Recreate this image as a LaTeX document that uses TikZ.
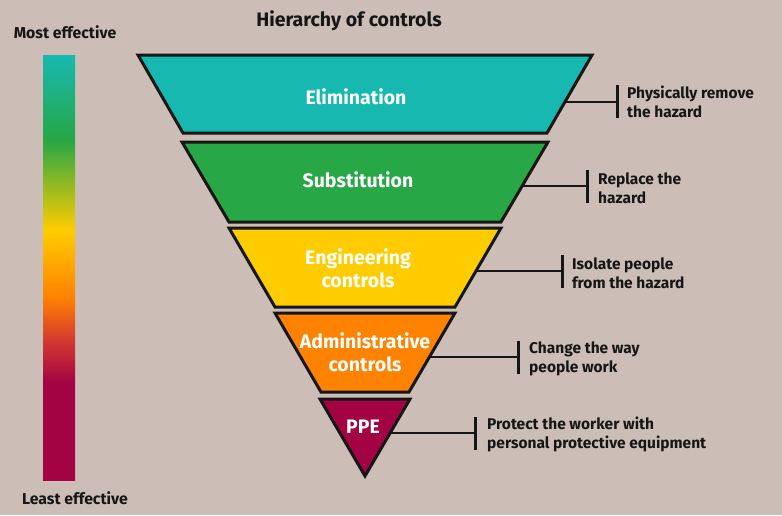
\documentclass[tikz,border=0pt]{standalone}
\usepackage{fontspec}
\setmainfont{Fira Sans}
\definecolor{bg}{HTML}{CCBEB6}
\definecolor{ink}{HTML}{161616}
\definecolor{tealc}{HTML}{17B8B0}
\definecolor{grnc}{HTML}{27A745}
\definecolor{yelc}{HTML}{FFCC00}
\definecolor{orgc}{HTML}{FF8200}
\definecolor{redc}{HTML}{D43A30}
\definecolor{crmc}{HTML}{A30342}
\pgfdeclareverticalshading{effbar}{100bp}{color(0bp)=(crmc); color(25bp)=(crmc); color(36.4bp)=(crmc); color(41.5bp)=(redc); color(46.5bp)=(orgc); color(54.4bp)=(yelc); color(65bp)=(grnc); color(75bp)=(tealc); color(100bp)=(tealc)}
\begin{document}
\begin{tikzpicture}[x=1pt,y=-1pt,
  level/.style={draw=ink, line width=3pt, line join=miter},
  lbl/.style={text=white, font=\bfseries\fontsize{19.5}{23}\selectfont, align=center},
  note/.style={text=ink, font=\bfseries\fontsize{15.5}{19}\selectfont, align=left, anchor=west, inner sep=1pt},
  head/.style={text=ink, font=\bfseries\fontsize{15.8}{18}\selectfont},
  conn/.style={draw=ink, line width=2.5pt},
  barmark/.style={draw=ink, line width=3pt}]
\fill[bg] (0,0) rectangle (782,515);
\useasboundingbox (0,0) rectangle (782,515);

% gradient bar
\shade[shading=effbar] (43,55) rectangle (75,480);
\node[head] (most) at (65,32) {Most effective};
\node[head] (least) at (75,498) {Least effective};
\node[text=ink, font=\bfseries\fontsize{19.5}{22}\selectfont] (title) at (349,21) {Hierarchy of controls};

% levels
\path[level, fill=tealc] (138,55) -- (592,55) -- (547,133) -- (183,133) -- cycle;
\path[level, fill=grnc] (182,142) -- (548,142) -- (501,222) -- (229,222) -- cycle;
\path[level, fill=yelc] (229,228) -- (501,228) -- (455,307) -- (275,307) -- cycle;
\path[level, fill=orgc] (275,313) -- (455,313) -- (409,392) -- (321,392) -- cycle;
\path[level, fill=crmc] (320,399) -- (410,399) -- (365,476) -- cycle;

\node[lbl] (elim) at (356,97) {Elimination};
\node[lbl] (subs) at (358,180) {Substitution};
\node[lbl] (engi) at (358,268) {Engineering\\controls};
\node[lbl] (admi) at (365,352) {Administrative\\controls};
\node[lbl] (ppe) at (363,427) {PPE};

% connectors
\coordinate (c1a) at (565,102); \coordinate (c1b) at (617,102);
\coordinate (c1t) at (617,85); \coordinate (c1u) at (617,118);
\draw[conn] (c1a) -- (c1b); \draw[barmark] (c1t) -- (c1u);
\node[note] (n1) at (626,102) {Physically remove\\the hazard};

\coordinate (c2a) at (522,186); \coordinate (c2b) at (587,186);
\coordinate (c2t) at (587,170); \coordinate (c2u) at (587,203);
\draw[conn] (c2a) -- (c2b); \draw[barmark] (c2t) -- (c2u);
\node[note] (n2) at (597,188) {Replace the\\hazard};

\coordinate (c3a) at (476,271); \coordinate (c3b) at (562,271);
\coordinate (c3t) at (562,255); \coordinate (c3u) at (562,288);
\draw[conn] (c3a) -- (c3b); \draw[barmark] (c3t) -- (c3u);
\node[note] (n3) at (571,273) {Isolate people\\from the hazard};

\coordinate (c4a) at (429,357); \coordinate (c4b) at (518,357);
\coordinate (c4t) at (518,341); \coordinate (c4u) at (518,374);
\draw[conn] (c4a) -- (c4b); \draw[barmark] (c4t) -- (c4u);
\node[note] (n4) at (528,359) {Change the way\\people work};

\coordinate (c5a) at (390,433); \coordinate (c5b) at (475,433);
\coordinate (c5t) at (475,417); \coordinate (c5u) at (475,450);
\draw[conn] (c5a) -- (c5b); \draw[barmark] (c5t) -- (c5u);
\node[note] (n5) at (486,434) {Protect the worker with\\personal protective equipment};
\end{tikzpicture}
\end{document}
